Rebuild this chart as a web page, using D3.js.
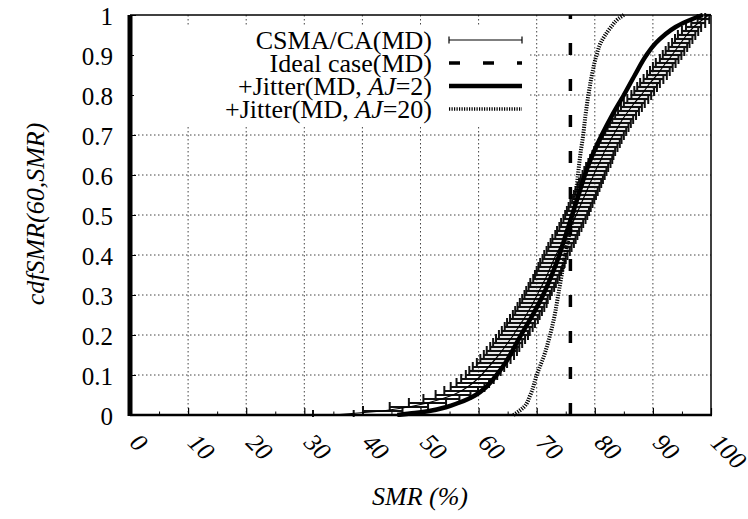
<!DOCTYPE html>
<html>
<head>
<meta charset="utf-8">
<script src="https://d3js.org/d3.v7.min.js"></script>
<style>
  body { margin: 0; background: #fff; }
  svg text { font-family: "Liberation Serif", "Times New Roman", Times, serif; fill: #000; }
</style>
</head>
<body>
<svg width="748" height="519"></svg>
<script>
// ---- data ----
var xTicks = [0, 10, 20, 30, 40, 50, 60, 70, 80, 90, 100];
var xMinor = [5, 15, 25, 35, 45, 55, 65, 75, 85, 95];
var yTicks = [0, 0.1, 0.2, 0.3, 0.4, 0.5, 0.6, 0.7, 0.8, 0.9, 1];
var yTickLabels = ["0", "0.1", "0.2", "0.3", "0.4", "0.5", "0.6", "0.7", "0.8", "0.9", "1"];

// CSMA/CA(MD): cdf level, SMR, horizontal error (half width)
var csmaCdf = [0.00,0.01,0.02,0.03,0.04,0.05,0.06,0.07,0.08,0.09,
  0.10,0.11,0.12,0.13,0.14,0.15,0.16,0.17,0.18,0.19,
  0.20,0.21,0.22,0.23,0.24,0.25,0.26,0.27,0.28,0.29,
  0.30,0.31,0.32,0.33,0.34,0.35,0.36,0.37,0.38,0.39,
  0.40,0.41,0.42,0.43,0.44,0.45,0.46,0.47,0.48,0.49,
  0.50,0.51,0.52,0.53,0.54,0.55,0.56,0.57,0.58,0.59,
  0.60,0.61,0.62,0.63,0.64,0.65,0.66,0.67,0.68,0.69,
  0.70,0.71,0.72,0.73,0.74,0.75,0.76,0.77,0.78,0.79,
  0.80,0.81,0.82,0.83,0.84,0.85,0.86,0.87,0.88,0.89,
  0.90,0.91,0.92,0.93,0.94,0.95,0.96,0.97,0.98,0.99,1.00];
var csmaSmr = [35.0,43.5,48.0,51.2,53.6,55.6,57.0,58.1,59.0,59.8,
  60.5,61.1,61.7,62.3,62.9,63.5,64.0,64.5,65.0,65.5,
  66.0,66.4,66.9,67.3,67.8,68.2,68.6,69.0,69.4,69.7,
  70.1,70.4,70.8,71.1,71.5,71.8,72.1,72.4,72.7,73.0,
  73.3,73.7,74.0,74.4,74.7,75.1,75.4,75.8,76.1,76.5,
  76.8,77.1,77.4,77.7,78.0,78.3,78.6,78.9,79.2,79.5,
  79.8,80.1,80.4,80.8,81.1,81.4,81.7,82.1,82.5,82.8,
  83.2,83.6,84.0,84.4,84.8,85.3,85.8,86.3,86.8,87.4,
  88.0,88.5,89.0,89.5,90.1,90.7,91.2,91.7,92.2,92.8,
  93.3,93.8,94.3,94.8,95.3,95.8,96.4,97.0,97.8,98.7,99.6];
var csmaErr = [3.5,3.4,3.3,3.2,3.1,3.0,2.9,2.9,2.8,2.8,
  2.7,2.7,2.7,2.6,2.6,2.6,2.6,2.5,2.5,2.5,
  2.5,2.4,2.4,2.4,2.4,2.3,2.3,2.3,2.3,2.2,
  2.2,2.2,2.2,2.2,2.1,2.1,2.1,2.1,2.1,2.0,
  2.0,2.0,2.0,2.0,2.0,1.9,1.9,1.9,1.9,1.9,
  1.9,1.9,1.9,1.9,1.9,1.9,1.9,1.9,1.9,1.9,
  1.9,1.9,1.9,1.9,1.9,1.8,1.8,1.8,1.8,1.8,
  1.8,1.8,1.8,1.8,1.8,1.8,1.8,1.8,1.8,1.8,
  1.7,1.7,1.7,1.7,1.7,1.7,1.7,1.7,1.7,1.6,
  1.6,1.6,1.6,1.5,1.5,1.5,1.4,1.3,1.2,1.0,0.6];

// Ideal case(MD)
var idealSmr = 75.8;

// +Jitter(MD, AJ=2)
var aj2Cdf = [0,0.005,0.01,0.02,0.03,0.04,0.05,0.07,0.10,0.13,
  0.16,0.20,0.25,0.30,0.35,0.40,0.45,0.50,0.55,0.60,
  0.65,0.70,0.75,0.80,0.85,0.90,0.93,0.95,0.97,0.98,0.99,1.0];
var aj2Smr = [46,49,51.5,54.5,56.5,58.2,59.5,61.3,63.1,64.6,
  65.8,67.3,69.3,71.1,72.6,73.9,75.0,76.1,77.2,78.3,
  79.6,81.2,83.0,85.0,86.9,88.9,90.5,92.0,93.9,95.2,96.8,98.6];

// +Jitter(MD, AJ=20)
var aj20Cdf = [0,0.02,0.05,0.10,0.15,0.20,0.25,0.30,0.35,0.40,0.45,0.50,
  0.55,0.60,0.65,0.70,0.75,0.80,0.85,0.90,0.93,0.95,0.97,0.99,1.0];
var aj20Smr = [66.0,67.8,68.9,70.0,71.3,72.3,73.1,73.7,74.3,74.9,75.6,76.3,
  76.7,77.1,77.5,78.0,78.4,78.9,79.5,80.3,81.0,81.8,82.8,84.0,85.0];

var legendLabels = [
  [["CSMA/CA(MD)", false]],
  [["Ideal case(MD)", false]],
  [["+Jitter(MD, ", false], ["AJ", true], ["=2)", false]],
  [["+Jitter(MD, ", false], ["AJ", true], ["=20)", false]]
];

// ---- chart ----
var serif = "Liberation Serif, Times New Roman, serif";
var svg = d3.select("svg");
var mLeft = 130, mRight = 711, mTop = 15, mBottom = 415;

var x = d3.scaleLinear().domain([0, 100]).range([mLeft, mRight]);
var y = d3.scaleLinear().domain([0, 1]).range([mBottom, mTop]);

svg.append("clipPath").attr("id", "plotclip")
  .append("rect").attr("x", mLeft).attr("y", mTop - 2)
  .attr("width", mRight - mLeft).attr("height", mBottom - mTop + 4);

// grid
var grid = svg.append("g").attr("stroke", "#444").attr("stroke-width", 1)
  .attr("stroke-dasharray", "1.5,2.5");
grid.selectAll(".gx").data(xTicks.slice(1, -1)).enter().append("line")
  .attr("x1", function(d) { return x(d); }).attr("x2", function(d) { return x(d); })
  .attr("y1", mTop).attr("y2", mBottom);
grid.selectAll(".gy").data(yTicks.slice(1, -1)).enter().append("line")
  .attr("y1", function(d) { return y(d); }).attr("y2", function(d) { return y(d); })
  .attr("x1", mLeft).attr("x2", mRight);

// axes
var xAxis = svg.append("g").attr("transform", "translate(0," + mBottom + ")")
  .call(d3.axisBottom(x).tickValues(xTicks).tickSize(-7).tickSizeOuter(0)
    .tickFormat(function(d) { return d; }));
xAxis.attr("font-family", serif);
xAxis.select(".domain").remove();
xAxis.selectAll(".tick line").attr("stroke-width", 1.2);
xAxis.selectAll(".tick text")
  .attr("y", null).attr("dy", null)
  .attr("text-anchor", "start")
  .attr("font-size", 25).attr("font-style", "italic")
  .attr("transform", "translate(-2,29) rotate(45)");

svg.append("g").attr("transform", "translate(0," + mBottom + ")")
  .call(d3.axisBottom(x).tickValues(xMinor).tickSize(-3.5).tickFormat(""))
  .select(".domain").remove();

var yAxis = svg.append("g").attr("transform", "translate(" + mLeft + ",0)")
  .call(d3.axisLeft(y).tickValues(yTicks).tickSize(-6).tickSizeOuter(0)
    .tickFormat(function(d, i) { return yTickLabels[i]; }));
yAxis.attr("font-family", serif);
yAxis.select(".domain").remove();
yAxis.selectAll(".tick text").attr("x", -17).attr("dy", "0.36em")
  .attr("font-size", 25);

// legend box (opaque)
svg.append("rect").attr("x", 134).attr("y", 25).attr("width", 396).attr("height", 101)
  .attr("fill", "#fff");

// data
var plot = svg.append("g").attr("clip-path", "url(#plotclip)");

var csma = csmaCdf.map(function(c, i) { return { c: c, s: csmaSmr[i], e: csmaErr[i] }; });
var bars = plot.append("g").attr("stroke", "#111");
bars.selectAll(".eb").data(csma).enter().append("line")
  .attr("stroke-width", 2.2)
  .attr("x1", function(d) { return x(d.s - d.e); })
  .attr("x2", function(d) { return x(d.s + d.e); })
  .attr("y1", function(d) { return y(d.c); })
  .attr("y2", function(d) { return y(d.c); });
bars.selectAll(".capl").data(csma).enter().append("line")
  .attr("stroke-width", 2)
  .attr("x1", function(d) { return x(d.s - d.e); })
  .attr("x2", function(d) { return x(d.s - d.e); })
  .attr("y1", function(d) { return y(d.c) - 5; })
  .attr("y2", function(d) { return y(d.c) + 5; });
bars.selectAll(".capr").data(csma).enter().append("line")
  .attr("stroke-width", 2)
  .attr("x1", function(d) { return x(d.s + d.e); })
  .attr("x2", function(d) { return x(d.s + d.e); })
  .attr("y1", function(d) { return y(d.c) - 5; })
  .attr("y2", function(d) { return y(d.c) + 5; });

var line = d3.line()
  .x(function(d) { return x(d[0]); })
  .y(function(d) { return y(d[1]); });

plot.append("path")
  .datum(csmaCdf.map(function(c, i) { return [csmaSmr[i], c]; }))
  .attr("d", line).attr("fill", "none").attr("stroke", "#000").attr("stroke-width", 1.2);

var smooth = d3.line()
  .x(function(d) { return x(d[0]); })
  .y(function(d) { return y(d[1]); })
  .curve(d3.curveMonotoneY);

plot.append("path")
  .datum(aj20Cdf.map(function(c, i) { return [aj20Smr[i], c]; }))
  .attr("d", smooth).attr("fill", "none").attr("stroke", "#000")
  .attr("stroke-width", 4).attr("stroke-dasharray", "1.2,1.3");

plot.append("path")
  .datum(aj2Cdf.map(function(c, i) { return [aj2Smr[i], c]; }))
  .attr("d", smooth).attr("fill", "none").attr("stroke", "#000")
  .attr("stroke-width", 4.5);

plot.append("line")
  .attr("x1", x(idealSmr)).attr("x2", x(idealSmr))
  .attr("y1", y(0)).attr("y2", y(1))
  .attr("stroke", "#000").attr("stroke-width", 3.5).attr("stroke-dasharray", "12,24");

// frame
svg.append("line").attr("x1", x(0)).attr("x2", x(0)).attr("y1", y(0) + 1).attr("y2", y(1))
  .attr("stroke", "#000").attr("stroke-width", 5);
svg.append("line").attr("x1", mLeft).attr("x2", mRight + 1).attr("y1", mBottom).attr("y2", mBottom)
  .attr("stroke", "#000").attr("stroke-width", 2.5);
svg.append("line").attr("x1", mLeft).attr("x2", mRight).attr("y1", mTop).attr("y2", mTop)
  .attr("stroke", "#000").attr("stroke-width", 1.5);
svg.append("line").attr("x1", mRight).attr("x2", mRight).attr("y1", mTop).attr("y2", mBottom)
  .attr("stroke", "#000").attr("stroke-width", 1.5);

// legend
var lg = svg.append("g");
var rowY = [40, 63, 86, 109];
var sx1 = 449, sx2 = 522;
legendLabels.forEach(function(parts, i) {
  var t = lg.append("text").attr("x", 432).attr("y", rowY[i]).attr("dy", "0.33em")
    .attr("text-anchor", "end").attr("font-size", 26).attr("font-family", serif);
  parts.forEach(function(p) {
    t.append("tspan").text(p[0]).attr("font-style", p[1] ? "italic" : null);
  });
});
lg.append("line").attr("x1", sx1).attr("x2", sx2).attr("y1", rowY[0]).attr("y2", rowY[0])
  .attr("stroke", "#000").attr("stroke-width", 1.2);
[sx1, sx2].forEach(function(sx) {
  lg.append("line").attr("x1", sx).attr("x2", sx).attr("y1", rowY[0] - 3.5).attr("y2", rowY[0] + 3.5)
    .attr("stroke", "#000").attr("stroke-width", 1.2);
});
lg.append("line").attr("x1", sx1).attr("x2", sx2).attr("y1", rowY[1]).attr("y2", rowY[1])
  .attr("stroke", "#000").attr("stroke-width", 3.5).attr("stroke-dasharray", "11,23");
lg.append("line").attr("x1", sx1).attr("x2", sx2).attr("y1", rowY[2]).attr("y2", rowY[2])
  .attr("stroke", "#000").attr("stroke-width", 4.5);
lg.append("line").attr("x1", sx1).attr("x2", sx2).attr("y1", rowY[3]).attr("y2", rowY[3])
  .attr("stroke", "#000").attr("stroke-width", 3.5).attr("stroke-dasharray", "1.2,1.3");

// axis titles
svg.append("text").attr("x", 420).attr("y", 505).attr("text-anchor", "middle")
  .attr("font-family", serif).attr("font-size", 26).attr("font-style", "italic").text("SMR (%)");
svg.append("text").attr("transform", "translate(44,214) rotate(-90)")
  .attr("text-anchor", "middle").attr("font-family", serif)
  .attr("font-size", 26).attr("font-style", "italic")
  .text("cdfSMR(60,SMR)");
</script>
</body>
</html>
